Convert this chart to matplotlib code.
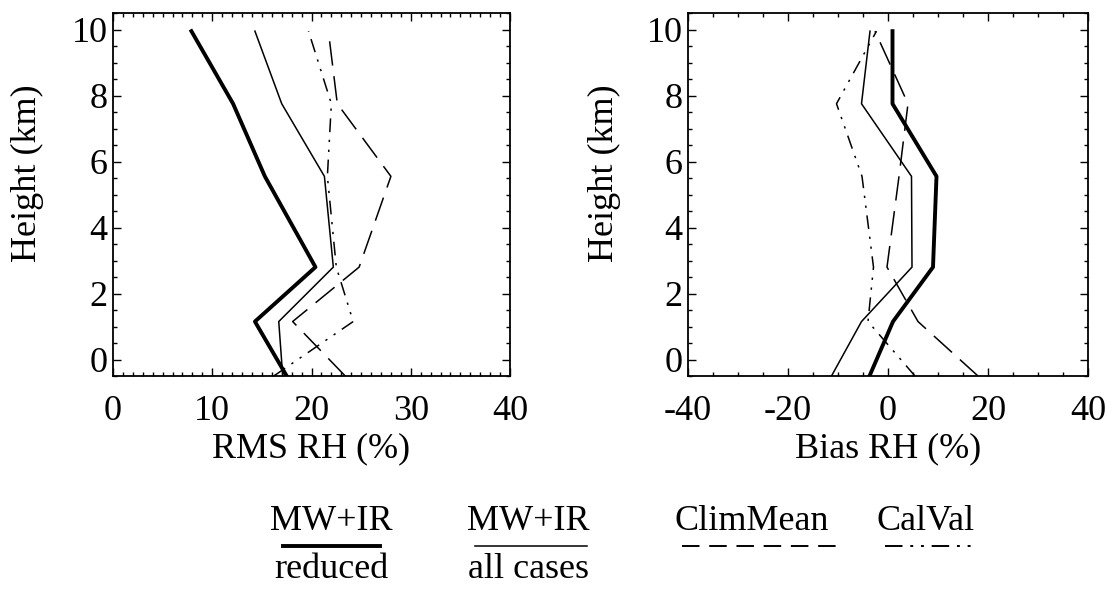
import numpy as np
import matplotlib
matplotlib.use("Agg")
import matplotlib.pyplot as plt
from matplotlib.lines import Line2D
from matplotlib.ticker import MultipleLocator

plt.rcParams['font.family'] = ['Liberation Serif', 'DejaVu Serif']
plt.rcParams['font.size'] = 26
plt.rcParams['axes.unicode_minus'] = False

# heights of the profile levels (km)
heights = [-0.5, 1.15, 2.8, 5.55, 7.75, 9.95]

# RMS RH (%)
rms_reduced = [17.5, 14.3, 20.4, 15.3, 12.1, 7.9]
rms_all = [17.1, 16.7, 22.2, 21.3, 17.0, 14.3]
rms_clim = [23.4, 18.1, 24.8, 28.0, 22.6, 21.7]
rms_calval = [16.2, 24.2, 22.5, 21.6, 22.0, 19.7]

# Bias RH (%)
bias_reduced = [-3.7, 1.0, 9.0, 9.7, 0.9, 0.9]
bias_all = [-11.3, -5.3, 4.8, 4.7, -5.3, -3.6]
bias_clim = [18.0, 6.0, -0.2, 2.2, 4.0, -2.6]
bias_calval = [5.4, -4.0, -2.9, -5.2, -10.3, -2.3]

x_ticks_rms = [0, 10, 20, 30, 40]
x_ticks_bias = [-40, -20, 0, 20, 40]
y_ticks = [0, 2, 4, 6, 8, 10]

# line styles
sty_reduced = dict(color='black', lw=2.8, linestyle='-')
sty_all = dict(color='black', lw=1.1, linestyle='-')
sty_clim = dict(color='black', lw=1.1, linestyle=(0, (16, 7)))
sty_calval = dict(color='black', lw=1.1, linestyle=(0, (9, 5, 1.5, 5, 1.5, 5)))

fig = plt.figure(figsize=(11.17, 5.93), dpi=100)
ax1 = fig.add_axes([113 / 1117, 1 - 376 / 593, 397 / 1117, 363 / 593])
ax2 = fig.add_axes([688 / 1117, 1 - 376 / 593, 400 / 1117, 363 / 593])


def style_axis(ax, xlim, xticks, xminor, xlabel):
    ax.set_xlim(*xlim)
    ax.set_ylim(-0.5, 10.5)
    ax.set_xticks(xticks)
    ax.set_xticklabels([str(t) for t in xticks])
    ax.set_yticks(y_ticks)
    ax.xaxis.set_minor_locator(MultipleLocator(xminor))
    ax.yaxis.set_minor_locator(MultipleLocator(0.5))
    ax.tick_params(which='both', direction='in', top=True, right=True, width=1.0)
    ax.tick_params(which='major', length=5.5)
    ax.tick_params(which='minor', length=3)
    ax.tick_params(axis='x', pad=14)
    ax.tick_params(axis='y', pad=4)
    for s in ax.spines.values():
        s.set_linewidth(1.3)
    ax.set_xlabel(xlabel)
    ax.set_ylabel('Height (km)')
    ax.xaxis.set_label_coords(0.5, -0.155)


ax1.plot(rms_reduced, heights, **sty_reduced)
ax1.plot(rms_all, heights, **sty_all)
ax1.plot(rms_clim, heights, **sty_clim)
ax1.plot(rms_calval, heights, **sty_calval)
style_axis(ax1, (0, 40), x_ticks_rms, 1, 'RMS RH (%)')
ax1.yaxis.set_label_coords(-0.175, 0.56)

ax2.plot(bias_reduced, heights, **sty_reduced)
ax2.plot(bias_all, heights, **sty_all)
ax2.plot(bias_clim, heights, **sty_clim)
ax2.plot(bias_calval, heights, **sty_calval)
style_axis(ax2, (-40, 40), x_ticks_bias, 5, 'Bias RH (%)')
ax2.yaxis.set_label_coords(-0.168, 0.56)

# legend drawn below the panels
W, H = 1117.0, 593.0


def fx(px):
    return px / W


def fy(py):
    return 1 - py / H


legend_items = [
    ('MW+IR', 'reduced', 331, 283, 380, dict(color='black', lw=2.8, linestyle='-')),
    ('MW+IR', 'all cases', 528, 475, 587, dict(color='black', lw=1.1, linestyle='-')),
    ('ClimMean', None, 752, 682, 840, dict(color='black', lw=1.4, linestyle=(0, (9, 5)))),
    ('CalVal', None, 926, 885, 975, dict(color='black', lw=1.4, linestyle=(0, (9, 4, 1.5, 4, 1.5, 4)))),
]
for top, bottom, cx, x0, x1, sty in legend_items:
    fig.text(fx(cx), fy(522), top, ha='center', va='center')
    fig.add_artist(Line2D([fx(x0), fx(x1)], [fy(546), fy(546)], transform=fig.transFigure, **sty))
    if bottom:
        fig.text(fx(cx), fy(570), bottom, ha='center', va='center')

fig.savefig('out.png', dpi=100)
